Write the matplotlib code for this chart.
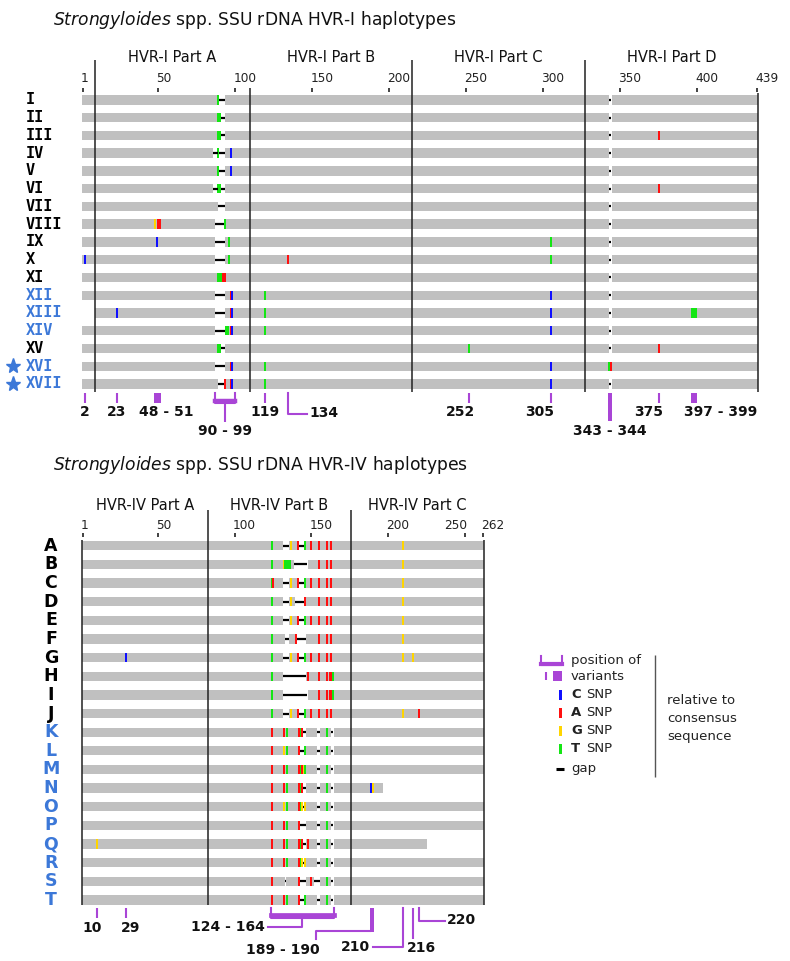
import matplotlib.pyplot as plt

GREY = '#c0c0c0'
LABEL_BLUE = '#3c78d8'
PURPLE = '#a945d6'
SNP_COLOURS = {'C': '#1010ff', 'A': '#ff1010', 'G': '#ffd500', 'T': '#14e614'}

# ---------------- HVR-I data ----------------
hvr1_rows = ['I', 'II', 'III', 'IV', 'V', 'VI', 'VII', 'VIII', 'IX', 'X',
             'XI', 'XII', 'XIII', 'XIV', 'XV', 'XVI', 'XVII']
hvr1_new = ['XII', 'XIII', 'XIV', 'XVI', 'XVII']
hvr1_star = ['XVI', 'XVII']
hvr1_start = [1, 1, 1, 1, 1, 1, 1, 1, 1, 1, 1, 1, 9, 1, 1, 1, 1]
hvr1_end = [439] * 17
# (base, pos) or (base, from, to); '-' is a gap
hvr1_variants = [
    [('T', 89), ('-', 90, 93), ('-', 343, 344)],
    [('T', 89, 90), ('-', 91, 93), ('-', 343, 344)],
    [('T', 89, 90), ('-', 91, 93), ('-', 343, 344), ('A', 375)],
    [('-', 86, 88), ('T', 89), ('-', 90, 93), ('C', 97), ('-', 343, 344)],
    [('T', 89), ('-', 90, 93), ('C', 97), ('-', 343, 344)],
    [('-', 86, 88), ('T', 89, 90), ('-', 91, 93), ('-', 343, 344), ('A', 375)],
    [('-', 89, 93), ('-', 343, 344)],
    [('G', 48), ('A', 50, 51), ('-', 87, 92), ('T', 93), ('-', 343, 344)],
    [('C', 49), ('-', 87, 93), ('T', 96), ('T', 305), ('-', 343, 344)],
    [('C', 2), ('-', 87, 93), ('T', 96), ('A', 134), ('T', 305), ('-', 343, 344)],
    [('T', 89, 91), ('A', 92, 93), ('-', 343, 344)],
    [('-', 87, 93), ('A', 97), ('C', 98), ('T', 119), ('C', 305), ('-', 343, 344)],
    [('C', 23), ('-', 87, 93), ('A', 97), ('C', 98), ('T', 119), ('C', 305),
     ('-', 343, 344), ('T', 397, 399)],
    [('-', 87, 93), ('T', 94, 95), ('A', 97), ('C', 98), ('T', 119), ('C', 305),
     ('-', 343, 344)],
    [('T', 89, 90), ('-', 91, 93), ('T', 252), ('-', 343, 344), ('A', 375)],
    [('-', 87, 93), ('A', 97), ('C', 98), ('T', 119), ('C', 305), ('T', 343), ('A', 344)],
    [('-', 89, 92), ('A', 93), ('A', 97), ('C', 98), ('T', 119), ('C', 305),
     ('-', 343, 344)],
]
hvr1_ticks = [1, 50, 100, 150, 200, 250, 300, 350, 400, 439]
hvr1_parts = ['HVR-I Part A', 'HVR-I Part B', 'HVR-I Part C', 'HVR-I Part D']
hvr1_bounds = [8.5, 109.5, 214.5, 327.5, 439.5]
hvr1_sites = [(2, 2), (23, 23), (48, 51), (90, 99), (119, 119), (134, 134),
              (252, 252), (305, 305), (343, 344), (375, 375), (397, 399)]

# ---------------- HVR-IV data ----------------
hvr4_rows = list('ABCDEFGHIJKLMNOPQRST')
hvr4_new = list('KLMNOPQRST')
hvr4_start = [1] * 20
hvr4_end = [262] * 13 + [196] + [262, 262] + [225] + [262] * 3
row_a = [('T', 124), ('-', 132, 135), ('G', 137), ('A', 141), ('-', 142, 145), ('T', 146),
         ('A', 150), ('A', 155), ('A', 160), ('A', 163)]
row_k = [('A', 124), ('A', 132), ('T', 134), ('A', 142), ('T', 143), ('A', 144),
         ('-', 145, 146), ('-', 154, 155), ('T', 160), ('-', 163, 164)]
hvr4_variants = [
    row_a + [('G', 210)],
    [('T', 124), ('G', 132), ('T', 133, 136), ('-', 139, 147), ('A', 155), ('A', 160),
     ('A', 163), ('G', 210)],
    row_a + [('A', 125), ('G', 210)],
    [('T', 124), ('-', 132, 135), ('G', 137), ('-', 140, 145), ('A', 146), ('A', 155),
     ('A', 160), ('A', 163), ('G', 210)],
    row_a + [('G', 210)],
    [('T', 124), ('-', 133, 135), ('A', 140), ('-', 141, 146), ('A', 155), ('A', 160),
     ('A', 163), ('G', 210)],
    row_a + [('C', 29), ('G', 210), ('G', 216)],
    [('T', 124), ('-', 132, 146), ('A', 148), ('A', 155), ('A', 160), ('A', 162, 163),
     ('T', 164)],
    [('T', 124), ('-', 132, 147), ('A', 155), ('A', 160), ('A', 162, 163), ('T', 164)],
    row_a + [('G', 210), ('A', 220)],
    row_k,
    [('A', 124), ('G', 132), ('T', 134), ('A', 142), ('-', 143, 145), ('T', 146),
     ('-', 154, 155), ('T', 160), ('-', 163, 164)],
    [('A', 124), ('A', 132), ('T', 134), ('A', 142), ('T', 143), ('A', 144), ('G', 145),
     ('T', 146), ('-', 154, 155), ('T', 160), ('-', 163, 164)],
    row_k + [('C', 189), ('G', 190)],
    [('A', 124), ('G', 132), ('T', 134), ('A', 142), ('T', 143), ('G', 144), ('-', 145),
     ('G', 146), ('-', 154, 155), ('T', 160), ('-', 163, 164)],
    [('A', 124), ('A', 132), ('T', 134), ('A', 142), ('-', 143, 146), ('-', 154, 155),
     ('T', 160), ('-', 163, 164)],
    row_k + [('G', 10), ('A', 148)],
    [('A', 124), ('A', 132), ('T', 134), ('A', 142), ('T', 143), ('G', 144), ('-', 145),
     ('G', 146), ('-', 154, 155), ('T', 160), ('-', 163, 164)],
    [('A', 124), ('-', 133), ('A', 142), ('-', 143, 146), ('A', 150), ('-', 152, 155),
     ('T', 160), ('-', 163, 164)],
    [('A', 124), ('A', 132), ('T', 134), ('A', 142), ('-', 143, 145), ('T', 146),
     ('-', 154, 155), ('T', 160), ('-', 163, 164)],
]
hvr4_ticks = [1, 50, 100, 150, 200, 250, 262]
hvr4_parts = ['HVR-IV Part A', 'HVR-IV Part B', 'HVR-IV Part C']
hvr4_bounds = [0.5, 82.5, 175.5, 262.5]
hvr4_sites = [(10, 10), (29, 29), (124, 164), (189, 190), (210, 210), (216, 216), (220, 220)]

legend_bases = ['C', 'A', 'G', 'T']
legend_note = ['relative to', 'consensus', 'sequence']

# drawing style of the site markers and label nudges (in sequence positions)
hvr1_site_style = ['tick', 'tick', 'block', 'bracket', 'tick', 'elbow',
                   'tick', 'tick', 'drop', 'tick', 'block']
hvr1_label_dx = [0, 0, 5.5, 0, 0, 0, -6, -7, 0, -6.5, 17]
hvr4_site_style = ['tick', 'tick', 'bracket', 'block', 'hook', 'drop', 'elbow']
hvr4_label_dx = [-3, 3.3, 0, 0, 0, 0, 0]
hvr1_tick_ha = ['left'] * 10
hvr4_tick_ha = ['left'] * 5 + ['right', 'left']

LAB = dict(va='center', fontsize=10, fontweight='bold', color='#111111')


def site_label(a, b):
    return str(a) if a == b else '%d - %d' % (a, b)


def draw_haplotypes(ax, starts, ends, variants, bar_h):
    ys = list(range(len(starts)))
    ax.barh(ys, [e - s + 1 for s, e in zip(starts, ends)], left=[s - 0.5 for s in starts],
            height=bar_h, color=GREY, linewidth=0)
    for y, row in zip(ys, variants):
        # gaps first so that neighbouring SNPs stay on top
        for v in row:
            if v[0] != '-':
                continue
            a, b = v[1], v[-1]
            ax.barh(y, b - a + 1, left=a - 0.5, height=bar_h + 0.1, color='white', linewidth=0)
            ax.plot([a - 0.4, b + 0.4], [y, y], color='black', lw=1.6, solid_capstyle='butt')
        for v in row:
            if v[0] == '-':
                continue
            a, b = v[1], v[-1]
            ax.barh(y, b - a + 1.3, left=a - 0.65, height=bar_h,
                    color=SNP_COLOURS[v[0]], linewidth=0)


def draw_frame(ax, ticks, tick_ha, tick_y, label_y, parts, bounds, bound_tops, line_bottom,
               part_y):
    ax.vlines(ticks, tick_y[0], tick_y[1], color='#333333', lw=1.3)
    for t, ha in zip(ticks, tick_ha):
        dx = -1.3 if ha == 'left' else 1.3
        ax.text(t + dx, label_y, str(t), ha=ha, va='center', fontsize=8.7, color='#222222')
    ax.vlines(bounds, bound_tops, line_bottom, color='#222222', lw=1.1)
    for i, p in enumerate(parts):
        ax.text((bounds[i] + bounds[i + 1]) / 2, part_y, p, ha='center', va='center',
                fontsize=10.5, color='#111111')


def annotate_hvr1(ax, sites, styles, label_dx):
    top, bot, lab = 16.52, 17.09, 17.6
    for (a, b), style, dx in zip(sites, styles, label_dx):
        text = site_label(a, b)
        mid = (a + b) / 2
        if style == 'tick':
            ax.vlines(a, top, bot, color=PURPLE, lw=1.5)
            ax.text(a + dx, lab, text, ha='center', **LAB)
        elif style == 'block':
            ax.bar(mid, bot - top, width=b - a + 2, bottom=top, color=PURPLE, linewidth=0)
            ax.text(mid + dx, lab, text, ha='center', **LAB)
        elif style == 'drop':
            ax.bar(mid, 18.1 - top, width=b - a + 2, bottom=top, color=PURPLE, linewidth=0)
            ax.text(mid + dx, 18.67, text, ha='center', **LAB)
        elif style == 'bracket':
            ax.plot([a - 3, a - 3, b + 0.5, b + 0.5], [top, bot, bot, top], color=PURPLE, lw=1.5)
            ax.plot([a - 3, b + 0.5], [16.95, 16.95], color=PURPLE, lw=3.2)
            ax.vlines(mid - 1, bot, 18.14, color=PURPLE, lw=1.5)
            ax.text(mid - 1 + dx, 18.67, text, ha='center', **LAB)
        elif style == 'elbow':
            ax.plot([a, a, a + 12.3], [top, 17.72, 17.72], color=PURPLE, lw=1.5)
            ax.text(a + 14 + dx, 17.62, text, ha='left', **LAB)


def annotate_hvr4(ax, sites, styles, label_dx):
    top, bot, lab = 19.42, 19.96, 20.5
    for (a, b), style, dx in zip(sites, styles, label_dx):
        text = site_label(a, b)
        mid = (a + b) / 2
        if style == 'tick':
            ax.vlines(a, top, bot, color=PURPLE, lw=1.5)
            ax.text(a + dx, lab, text, ha='center', **LAB)
        elif style == 'bracket':
            ax.plot([a - 0.5, a - 0.5, b + 0.5, b + 0.5], [top, bot, bot, top],
                    color=PURPLE, lw=1.5)
            ax.plot([a - 0.5, b + 0.5], [19.82, 19.82], color=PURPLE, lw=3.4)
            ax.plot([mid, mid, a - 2.3], [bot, 20.44, 20.44], color=PURPLE, lw=1.5)
            ax.text(a - 4.6 + dx, 20.47, text, ha='right', **LAB)
        elif style == 'block':
            ax.bar(mid, 20.7 - top, width=b - a + 2, bottom=top, color=PURPLE, linewidth=0)
            ax.plot([a - 1, a - 36, a - 36], [20.64, 20.64, 21.09], color=PURPLE, lw=1.5)
            ax.text(a - 57.5 + dx, 21.7, text, ha='center', **LAB)
        elif style == 'hook':
            ax.plot([a, a, a - 19.7], [top, 21.52, 21.52], color=PURPLE, lw=1.5)
            ax.text(a - 21.5 + dx, 21.52, text, ha='right', **LAB)
        elif style == 'drop':
            ax.vlines(a, top, 21.09, color=PURPLE, lw=1.5)
            ax.text(a - 4 + dx, 21.55, text, ha='left', **LAB)
        elif style == 'elbow':
            ax.plot([a, a, a + 17], [top, 20.1, 20.1], color=PURPLE, lw=1.5)
            ax.text(a + 18.5 + dx, 20.05, text, ha='left', **LAB)


def draw_legend(ax):
    x_txt = 319.3
    small = dict(va='center', fontsize=9.5, color='#222222')
    ax.plot([299.8, 299.8, 313.5, 313.5], [5.9, 6.42, 6.42, 5.9], color=PURPLE, lw=1.5)
    ax.plot([299.8, 313.5], [6.36, 6.36], color=PURPLE, lw=3)
    ax.text(x_txt, 6.18, 'position of', **small)
    ax.vlines(303, 6.78, 7.22, color=PURPLE, lw=1.5)
    ax.bar(310.6, 0.53, width=5.9, bottom=6.74, color=PURPLE, linewidth=0)
    ax.text(x_txt, 7.0, 'variants', **small)
    for i, base in enumerate(legend_bases):
        y = 8.0 + i * 0.965
        ax.bar(312.5, 0.54, width=2.2, bottom=y - 0.27, color=SNP_COLOURS[base], linewidth=0)
        ax.text(x_txt, y, base, fontweight='bold', **small)
        ax.text(329.0, y, 'SNP', **small)
    ax.plot([309.5, 314.7], [11.97, 11.97], color='black', lw=2.2, solid_capstyle='butt')
    ax.text(x_txt, 11.97, 'gap', **small)
    ax.vlines(374.1, 5.86, 12.4, color='#555555', lw=1)
    for i, line in enumerate(legend_note):
        ax.text(381.9, 8.32 + i * 0.96, line, **small)


def main():
    fig = plt.figure(figsize=(7.9, 9.61), dpi=100)

    # ---- top panel: HVR-I ----
    ax1 = fig.add_axes([0, 1 - 450 / 961, 1, 450 / 961])
    ax1.set_xlim(1 - 83 / 1.539, 1 + 707 / 1.539)
    ax1.set_ylim(19.72, -5.63)
    ax1.axis('off')
    draw_haplotypes(ax1, hvr1_start, hvr1_end, hvr1_variants, 0.53)
    draw_frame(ax1, hvr1_ticks, hvr1_tick_ha, (-0.66, -0.43), -1.22, hvr1_parts, hvr1_bounds,
               [-2.24, -0.66, -2.24, -2.24, -0.38], 16.46, -2.41)
    for i, name in enumerate(hvr1_rows):
        ax1.text(-36, i, name, ha='left', va='center', fontsize=11, fontweight='bold',
                 family='DejaVu Sans Mono',
                 color=LABEL_BLUE if name in hvr1_new else 'black')
    star_rows = [hvr1_rows.index(s) for s in hvr1_star]
    ax1.plot([-44.8] * len(star_rows), star_rows, '*', color=LABEL_BLUE, markersize=11)
    annotate_hvr1(ax1, hvr1_sites, hvr1_site_style, hvr1_label_dx)
    ax1.text(-18.5, -4.49, r'$\mathit{Strongyloides}$ spp. SSU rDNA HVR-I haplotypes',
             ha='left', va='center', fontsize=12.3, color='#111111')

    # ---- bottom panel: HVR-IV ----
    ax2 = fig.add_axes([0, 0, 1, 511 / 961])
    ax2.set_xlim(1 - 83 / 1.533, 1 + 707 / 1.533)
    ax2.set_ylim(22.27, -5.13)
    ax2.axis('off')
    draw_haplotypes(ax2, hvr4_start, hvr4_end, hvr4_variants, 0.5)
    draw_frame(ax2, hvr4_ticks, hvr4_tick_ha, (-0.68, -0.47), -1.06, hvr4_parts, hvr4_bounds,
               [-0.3, -1.91, -1.91, -0.3], 19.26, -2.18)
    for i, name in enumerate(hvr4_rows):
        ax2.text(-19.9, i, name, ha='center', va='center', fontsize=12.5, fontweight='bold',
                 color=LABEL_BLUE if name in hvr4_new else 'black')
    annotate_hvr4(ax2, hvr4_sites, hvr4_site_style, hvr4_label_dx)
    draw_legend(ax2)
    ax2.text(-18.6, -4.33, r'$\mathit{Strongyloides}$ spp. SSU rDNA HVR-IV haplotypes',
             ha='left', va='center', fontsize=12.3, color='#111111')

    fig.savefig('out.png', dpi=100, facecolor='white')


if __name__ == '__main__':
    main()
